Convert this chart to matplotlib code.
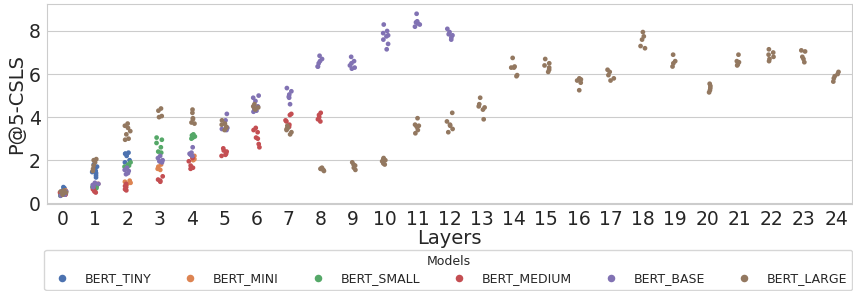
import numpy as np
import pandas as pd
import matplotlib
matplotlib.use("Agg")
import matplotlib.pyplot as plt
import seaborn as sns

models = ["BERT_TINY", "BERT_MINI", "BERT_SMALL", "BERT_MEDIUM", "BERT_BASE", "BERT_LARGE"]

bert_tiny = {
    0: [0.75, 0.7, 0.65, 0.6, 0.55, 0.5, 0.45],
    1: [1.8, 1.7, 1.6, 1.5, 1.45, 1.4, 1.3, 1.2],
    2: [2.35, 2.3, 2.3, 2.2, 2.0, 1.9],
}
bert_mini = {
    0: [0.6, 0.55, 0.5, 0.45, 0.4],
    1: [0.9, 0.85, 0.8, 0.8],
    2: [1.05, 1.0, 0.95, 0.9],
    3: [1.8, 1.7, 1.6, 1.55],
    4: [2.2, 2.1, 2.05, 2.0],
}
bert_small = {
    0: [0.5, 0.45, 0.4, 0.35],
    1: [0.8, 0.75, 0.75, 0.7],
    2: [1.9, 1.8, 1.75, 1.7],
    3: [3.05, 2.95, 2.8, 2.6, 2.4, 2.35],
    4: [3.2, 3.15, 3.1, 3.05, 3.0],
}
bert_medium = {
    0: [0.5, 0.45, 0.4, 0.4],
    1: [0.75, 0.65, 0.6, 0.55, 0.5],
    2: [0.9, 0.8, 0.75, 0.65, 0.6],
    3: [1.25, 1.1, 1.05, 1.0],
    4: [2.1, 1.95, 1.75, 1.65, 1.6],
    5: [2.55, 2.45, 2.4, 2.3, 2.25, 2.2],
    6: [3.5, 3.4, 3.3, 3.05, 3.0, 2.75, 2.6],
    7: [4.15, 4.1, 3.85, 3.8, 3.65, 3.55],
    8: [4.2, 4.1, 4.0, 3.9, 3.8],
}
bert_base = {
    0: [0.55, 0.5, 0.45, 0.4, 0.35],
    1: [0.95, 0.9, 0.85, 0.8, 0.75],
    2: [1.65, 1.55, 1.5, 1.4, 1.35],
    3: [2.2, 2.1, 2.0, 1.95, 1.9],
    4: [2.6, 2.35, 2.3, 2.25, 2.2],
    5: [4.15, 3.85, 3.5, 3.45, 3.4],
    6: [5.0, 4.9, 4.75, 4.5, 4.4, 4.3, 4.25],
    7: [5.35, 5.2, 5.05, 4.95, 4.9, 4.6],
    8: [6.85, 6.7, 6.6, 6.5, 6.35, 6.35],
    9: [6.8, 6.6, 6.5, 6.4, 6.3, 6.25],
    10: [8.3, 8.0, 7.9, 7.8, 7.75, 7.6, 7.4, 7.15],
    11: [8.8, 8.45, 8.4, 8.35, 8.3, 8.2],
    12: [8.1, 7.95, 7.85, 7.8, 7.7, 7.6],
}
bert_large = {
    0: [0.6, 0.55, 0.5, 0.45, 0.4],
    1: [2.05, 2.0, 1.9, 1.75, 1.6, 1.5],
    2: [3.7, 3.6, 3.5, 3.35, 3.2, 3.0, 2.95],
    3: [4.4, 4.3, 4.05, 4.0],
    4: [4.35, 4.2, 3.95, 3.9, 3.75, 3.7],
    5: [3.85, 3.7, 3.65, 3.55, 3.5, 3.4],
    6: [4.6, 4.5, 4.45, 4.4, 4.35],
    7: [3.6, 3.5, 3.45, 3.4, 3.3, 3.2],
    8: [1.65, 1.6, 1.6, 1.55, 1.5],
    9: [1.9, 1.8, 1.75, 1.65, 1.55],
    10: [2.1, 2.05, 2.0, 1.95, 1.85, 1.8],
    11: [3.95, 3.65, 3.6, 3.55, 3.4, 3.25],
    12: [4.2, 3.8, 3.65, 3.6, 3.45, 3.3],
    13: [4.9, 4.6, 4.5, 4.45, 4.35, 3.9],
    14: [6.75, 6.35, 6.3, 6.3, 5.95, 5.9],
    15: [6.7, 6.5, 6.4, 6.3, 6.2, 6.1],
    16: [5.8, 5.75, 5.7, 5.6, 5.25],
    17: [6.2, 6.1, 5.95, 5.8, 5.7],
    18: [7.95, 7.75, 7.6, 7.3, 7.2],
    19: [6.9, 6.6, 6.5, 6.35],
    20: [5.55, 5.45, 5.35, 5.25, 5.15],
    21: [6.9, 6.6, 6.55, 6.45, 6.4],
    22: [7.15, 7.0, 6.9, 6.8, 6.7, 6.6],
    23: [7.1, 7.05, 6.8, 6.7, 6.55],
    24: [6.1, 6.0, 5.9, 5.8, 5.65],
}

layers = list(range(25))
series = [bert_tiny, bert_mini, bert_small, bert_medium, bert_base, bert_large]

rows = []
for name, d in zip(models, series):
    for layer, vals in d.items():
        for v in vals:
            rows.append({"Layers": layer, "P@5-CSLS": v, "Models": name})
df = pd.DataFrame(rows)

sns.set_style("whitegrid")
plt.rcParams["font.family"] = ["DejaVu Sans"]

fig = plt.figure(figsize=(8.54, 2.91), dpi=100)
ax = fig.add_axes([0.055, 0.30, 0.943, 0.686])
np.random.seed(0)
sns.stripplot(data=df, x="Layers", y="P@5-CSLS", hue="Models", hue_order=models,
              order=layers, palette="deep", size=3.4, jitter=0.1, ax=ax)
ax.set_ylim(-0.02, 9.25)
ax.set_yticks([0, 2, 4, 6, 8])
ax.tick_params(axis="both", labelsize=13.5, pad=1)
ax.set_xlabel("Layers", fontsize=14, labelpad=0)
ax.set_ylabel("P@5-CSLS", fontsize=14, labelpad=2)
for s in ax.spines.values():
    s.set_color("#cccccc")

handles, labels = ax.get_legend_handles_labels()
ax.get_legend().remove()
leg = fig.legend(handles, labels, title="Models", ncol=6, loc="upper left",
                 bbox_to_anchor=(0.052, 0.0, 0.946, 0.141), mode="expand",
                 fontsize=9, title_fontsize=9, frameon=True, markerscale=1.6,
                 borderaxespad=0.0, handletextpad=0.8, borderpad=0.4,
                 labelspacing=0.2)
leg._legend_box.sep = 3
leg.get_frame().set_edgecolor("#cccccc")

fig.savefig("out.png", dpi=100)
